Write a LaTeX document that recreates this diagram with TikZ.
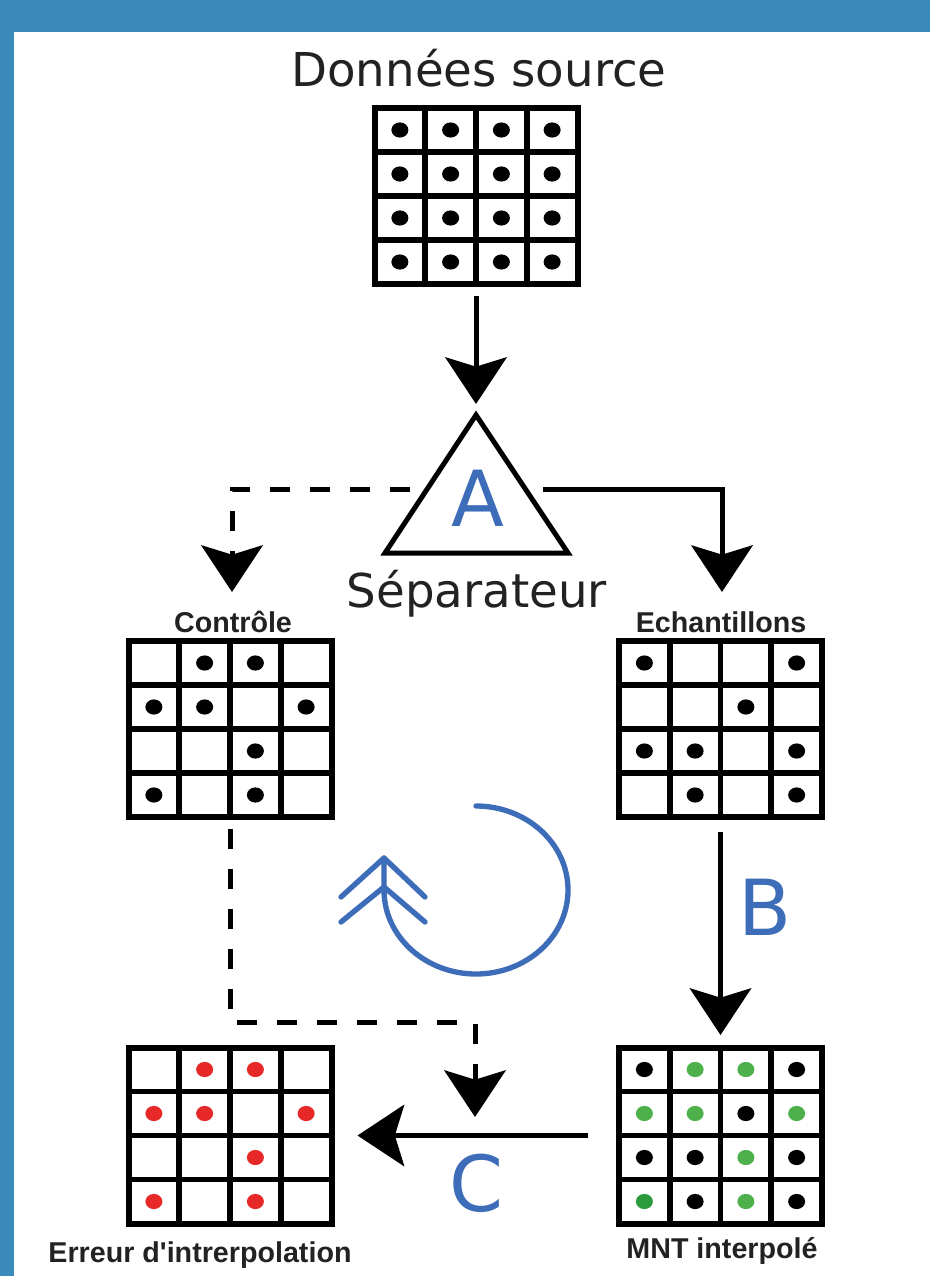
\documentclass[tikz,border=0pt]{standalone}
\usepackage{fontspec}
\setmainfont{DejaVu Sans}
\newfontfamily\labelfont{Liberation Sans}
\usetikzlibrary{arrows.meta,calc}

\definecolor{framecol}{HTML}{3A8BBB}
\definecolor{stepblue}{HTML}{3D6CB9}
\definecolor{ink}{HTML}{222222}
\definecolor{dotred}{HTML}{E62828}
\definecolor{dotgreen}{HTML}{4DB04A}
\definecolor{dotdkgreen}{HTML}{2A9A3C}

\tikzset{
  gridbox/.style={draw=black, line width=4.5pt, minimum width=152.25pt,
    minimum height=132pt, inner sep=0pt, outer sep=0pt},
  gridrule/.style={line width=4.2pt},
  flow/.style={line width=3.75pt,
    -{Stealth[length=35pt,width=46pt,inset=7pt]}},
  dashflow/.style={flow, dash pattern=on 15pt off 15pt},
  bigtitle/.style={font=\fontsize{35}{38}\selectfont, text=ink, inner sep=0pt},
  steplabel/.style={font=\fontsize{58}{60}\selectfont, text=stepblue},
  gridlabel/.style={font=\labelfont\bfseries\fontsize{21.5}{24}\selectfont,
    text=ink, inner sep=0pt},
  cyclestroke/.style={draw=stepblue, line width=4pt, line cap=round,
    line join=round},
}

% 4x4 cell grid: name, centre x, centre y, list of dots col/row/colour
\newcommand\cellgrid[4]{%
  \node[gridbox] (#1) at (#2,#3) {};
  \foreach \kk in {1,2,3}{
    \draw[gridrule] ($(#1.north west)!\kk/4!(#1.north east)$) --
                    ($(#1.south west)!\kk/4!(#1.south east)$);
    \draw[gridrule] ($(#1.north west)!\kk/4!(#1.south west)$) --
                    ($(#1.north east)!\kk/4!(#1.south east)$);
  }
  \foreach \gx/\gy/\dc in {#4}{
    \fill[\dc] ($(#1.north west)+({(\gx-0.5)*50.75},{(\gy-0.5)*44})$)
      ellipse [x radius=8.5, y radius=7.6];
  }
}

\begin{document}
\begin{tikzpicture}[x=0.75pt,y=-0.75pt]
\useasboundingbox (0,0) rectangle (930,1276);
\fill[framecol] (0,0) rectangle (930,1276);
\fill[white] (14,32) rectangle (930,1276);

% source data
\node[bigtitle, anchor=base] (srctitle) at (479,87) {Données source};
\cellgrid{src}{476}{196}{1/1/black,2/1/black,3/1/black,4/1/black,
  1/2/black,2/2/black,3/2/black,4/2/black,
  1/3/black,2/3/black,3/3/black,4/3/black,
  1/4/black,2/4/black,3/4/black,4/4/black}

% separator
\coordinate (apex) at (476,415);
\coordinate (baseL) at (385,553);
\coordinate (baseR) at (568,553);
\draw[line width=3.75pt, line join=miter] (apex) -- (baseL) -- (baseR) -- cycle;
\node[steplabel] (stepA) at (478,498) {A};
\node[bigtitle, anchor=base] (septitle) at (477,607) {Séparateur};

% control and sample grids
\node[gridlabel, anchor=base] (ctrltitle) at (233,632) {Contrôle};
\cellgrid{ctrl}{230}{729}{2/1/black,3/1/black,1/2/black,2/2/black,4/2/black,
  3/3/black,1/4/black,3/4/black}
\node[gridlabel, anchor=base] (samptitle) at (721,632) {Echantillons};
\cellgrid{samp}{720.5}{729}{1/1/black,4/1/black,3/2/black,1/3/black,2/3/black,
  4/3/black,2/4/black,4/4/black}

% error and interpolated grids
\cellgrid{err}{230}{1135.5}{2/1/dotred,3/1/dotred,1/2/dotred,2/2/dotred,
  4/2/dotred,3/3/dotred,1/4/dotred,3/4/dotred}
\node[gridlabel, anchor=base] (errtitle) at (200,1262) {Erreur d'intrerpolation};
\cellgrid{mnt}{720.5}{1135.5}{1/1/black,2/1/dotgreen,3/1/dotgreen,4/1/black,
  1/2/dotgreen,2/2/dotgreen,3/2/black,4/2/dotgreen,
  1/3/black,2/3/black,3/3/dotgreen,4/3/black,
  1/4/dotdkgreen,2/4/black,3/4/dotgreen,4/4/black}
\node[gridlabel, anchor=base] (mnttitle) at (722,1258) {MNT interpolé};

% connectors
\coordinate (apexin) at (476,404);
\draw[flow, shorten <=9pt] (src.south) -- (apexin);

\coordinate (leftout) at (410,489);
\coordinate (rightout) at (543,489);
\coordinate (ctrlin) at (232,592);
\coordinate (sampin) at (722,592);
\draw[dashflow] (leftout) -| (ctrlin);
\draw[flow] (rightout) -| (sampin);

\coordinate (mntin) at (720.5,1035);
\draw[flow, shorten <=11pt] (samp.south) -- (mntin);
\node[steplabel] (stepB) at (765,907) {B};

\coordinate (bend) at (230,1022);
\coordinate (junction) at (475,1117);
\draw[dashflow, shorten <=9pt] (ctrl.south) -- (bend) -| (junction);

\draw[flow, shorten <=23.25pt, shorten >=19.5pt] (mnt.west) -- (err.east);
\node[steplabel] (stepC) at (476,1183) {C};

% iteration loop
\draw[cyclestroke] (476,806) arc[start angle=-90, end angle=180,
  x radius=92, y radius=84] -- (384,858);
\draw[cyclestroke] (341,897) -- (384,858) -- (425,897);
\draw[cyclestroke] (341,922) -- (384,887) -- (425,922);
\end{tikzpicture}
\end{document}
